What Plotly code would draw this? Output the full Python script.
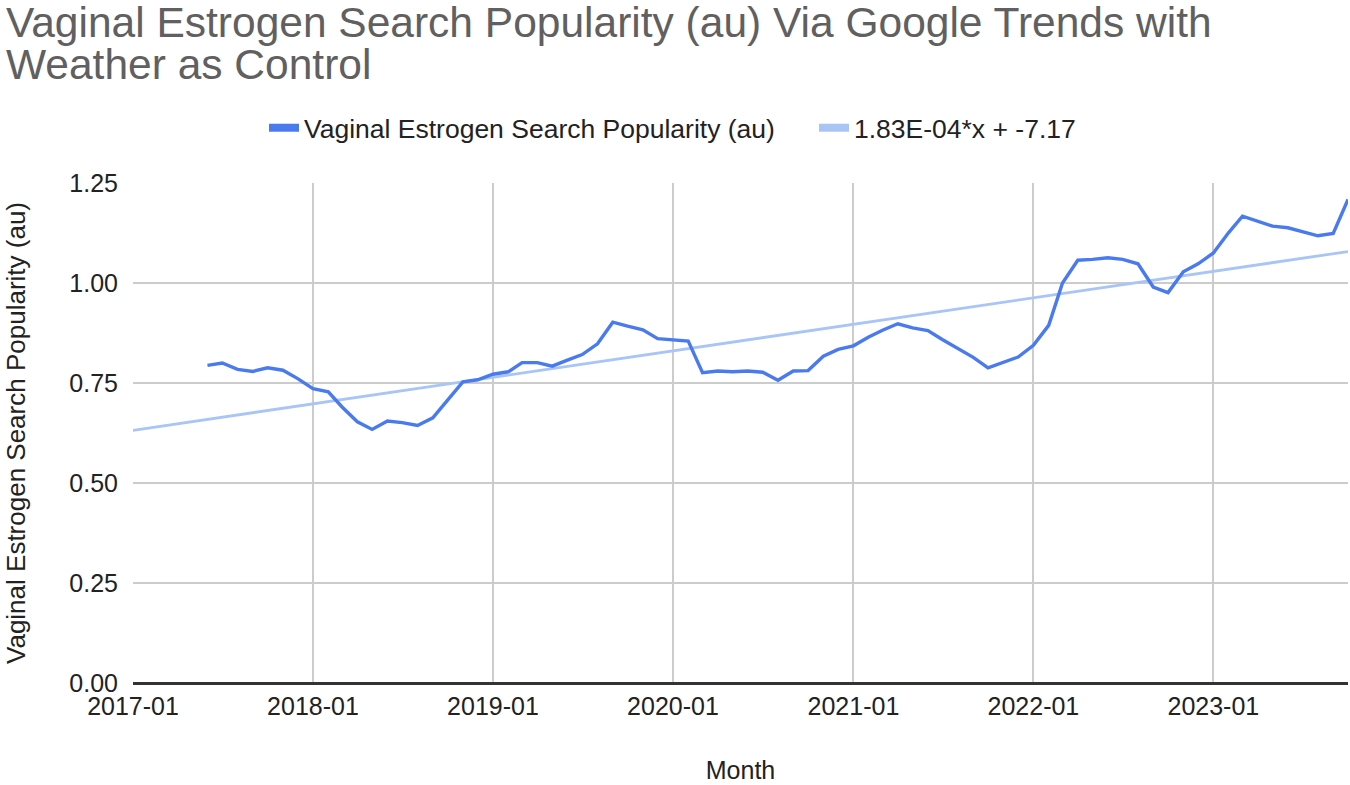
import numpy as np
import pandas as pd
import plotly.graph_objects as go

# ---- data ----
months = pd.date_range("2017-06-01", "2023-10-01", freq="MS")
popularity = [
    0.794, 0.800, 0.784, 0.779, 0.788, 0.782, 0.761,                      # 2017-06..12
    0.736, 0.728, 0.690, 0.653, 0.634, 0.655, 0.651, 0.644, 0.663, 0.707, 0.753, 0.758,  # 2018
    0.772, 0.778, 0.801, 0.801, 0.792, 0.807, 0.821, 0.848, 0.902, 0.892, 0.883, 0.861,  # 2019
    0.858, 0.855, 0.776, 0.780, 0.778, 0.780, 0.777, 0.757, 0.780, 0.781, 0.817, 0.834,  # 2020
    0.843, 0.865, 0.882, 0.898, 0.888, 0.881, 0.858, 0.836, 0.814, 0.788, 0.801, 0.815,  # 2021
    0.844, 0.894, 1.000, 1.057, 1.059, 1.063, 1.059, 1.048, 0.990, 0.976, 1.028, 1.048,  # 2022
    1.075, 1.126, 1.167, 1.154, 1.142, 1.138, 1.128, 1.118, 1.124, 1.209,                # 2023-01..10
]
x_range = ["2017-01-01", "2023-10-01"]
x_tick_labels = ["2017-01", "2018-01", "2019-01", "2020-01", "2021-01", "2022-01", "2023-01"]
y_ticks = [0.0, 0.25, 0.5, 0.75, 1.0, 1.25]

title_lines = ["Vaginal Estrogen Search Popularity (au) Via Google Trends with",
               "Weather as Control"]
series_name = "Vaginal Estrogen Search Popularity (au)"
trend_name = "1.83E-04*x + -7.17"
x_title = "Month"

# linear trendline fitted on spreadsheet date serials (days since 1899-12-30)
epoch = pd.Timestamp("1899-12-30")
serial = np.array([(d - epoch).days for d in months], dtype=float)
slope, intercept = np.polyfit(serial, np.array(popularity), 1)
trend_x = pd.to_datetime(x_range)
trend_serial = np.array([(d - epoch).days for d in trend_x], dtype=float)
trend_y = slope * trend_serial + intercept

FONT = "Liberation Sans, Arial, sans-serif"
MAIN_COLOR = "#4a7af0"
TREND_COLOR = "#a9c5f6"
TEXT = "#222222"

W, H = 1350, 785
L, R, T, B = 133, 2, 183, 102
PW, PH = W - L - R, H - T - B

fig = go.Figure()
# trend line drawn under the data line
fig.add_trace(go.Scatter(
    x=trend_x, y=trend_y, mode="lines", name=trend_name, showlegend=False,
    line=dict(color=TREND_COLOR, width=2.8), hoverinfo="skip",
))
fig.add_trace(go.Scatter(
    x=months, y=popularity, mode="lines", name=series_name, showlegend=False,
    line=dict(color=MAIN_COLOR, width=3.4),
))
# legend entries with block-like swatches
fig.add_trace(go.Scatter(
    x=[None], y=[None], mode="lines", name=series_name,
    line=dict(color=MAIN_COLOR, width=8),
))
fig.add_trace(go.Scatter(
    x=[None], y=[None], mode="lines", name=trend_name,
    line=dict(color=TREND_COLOR, width=8),
))

fig.update_layout(
    width=W, height=H,
    paper_bgcolor="white", plot_bgcolor="white",
    margin=dict(l=L, r=R, t=T, b=B, autoexpand=False),
    font=dict(family=FONT, size=25, color=TEXT),
    showlegend=True,
    legend=dict(
        orientation="h", xref="container", yref="container",
        x=264 / W, xanchor="left",
        y=1 - 128 / H, yanchor="middle",
        font=dict(family=FONT, size=26.5, color=TEXT),
        entrywidth=505, entrywidthmode="pixels",
        bgcolor="rgba(0,0,0,0)",
    ),
)

# title as two separately placed lines (tight line spacing as in the reference)
for text, baseline in zip(title_lines, [38, 79]):
    mid = baseline - 15
    fig.add_annotation(
        text=text, showarrow=False,
        xref="paper", yref="paper",
        x=(4 - L) / PW, xanchor="left",
        y=1 + (T - mid) / PH, yanchor="middle",
        font=dict(family=FONT, size=42.5, color="#606060"),
    )

fig.update_xaxes(
    range=x_range,
    tickvals=pd.to_datetime(["%s-01" % t for t in x_tick_labels]),
    ticktext=x_tick_labels,
    showgrid=True, gridcolor="#cccccc", gridwidth=1.5,
    showline=False, zeroline=False, ticks="",
    ticklabelstandoff=6,
    tickfont=dict(family=FONT, size=25, color=TEXT),
    title=dict(text=x_title, font=dict(family=FONT, size=25, color=TEXT), standoff=42),
)
fig.update_yaxes(
    range=[0, 1.25],
    tickvals=y_ticks,
    ticktext=["%.2f" % v for v in y_ticks],
    showgrid=True, gridcolor="#cccccc", gridwidth=1.5,
    zeroline=True, zerolinecolor="#333333", zerolinewidth=3,
    showline=False, ticks="",
    ticklabelstandoff=14,
    tickfont=dict(family=FONT, size=25, color=TEXT),
    title=dict(text=series_name, font=dict(family=FONT, size=26, color=TEXT), standoff=36),
)

fig.write_html(
    "out.html",
    config={"displayModeBar": False},
    post_script="document.body.style.margin='0';document.body.style.overflow='hidden';",
)
